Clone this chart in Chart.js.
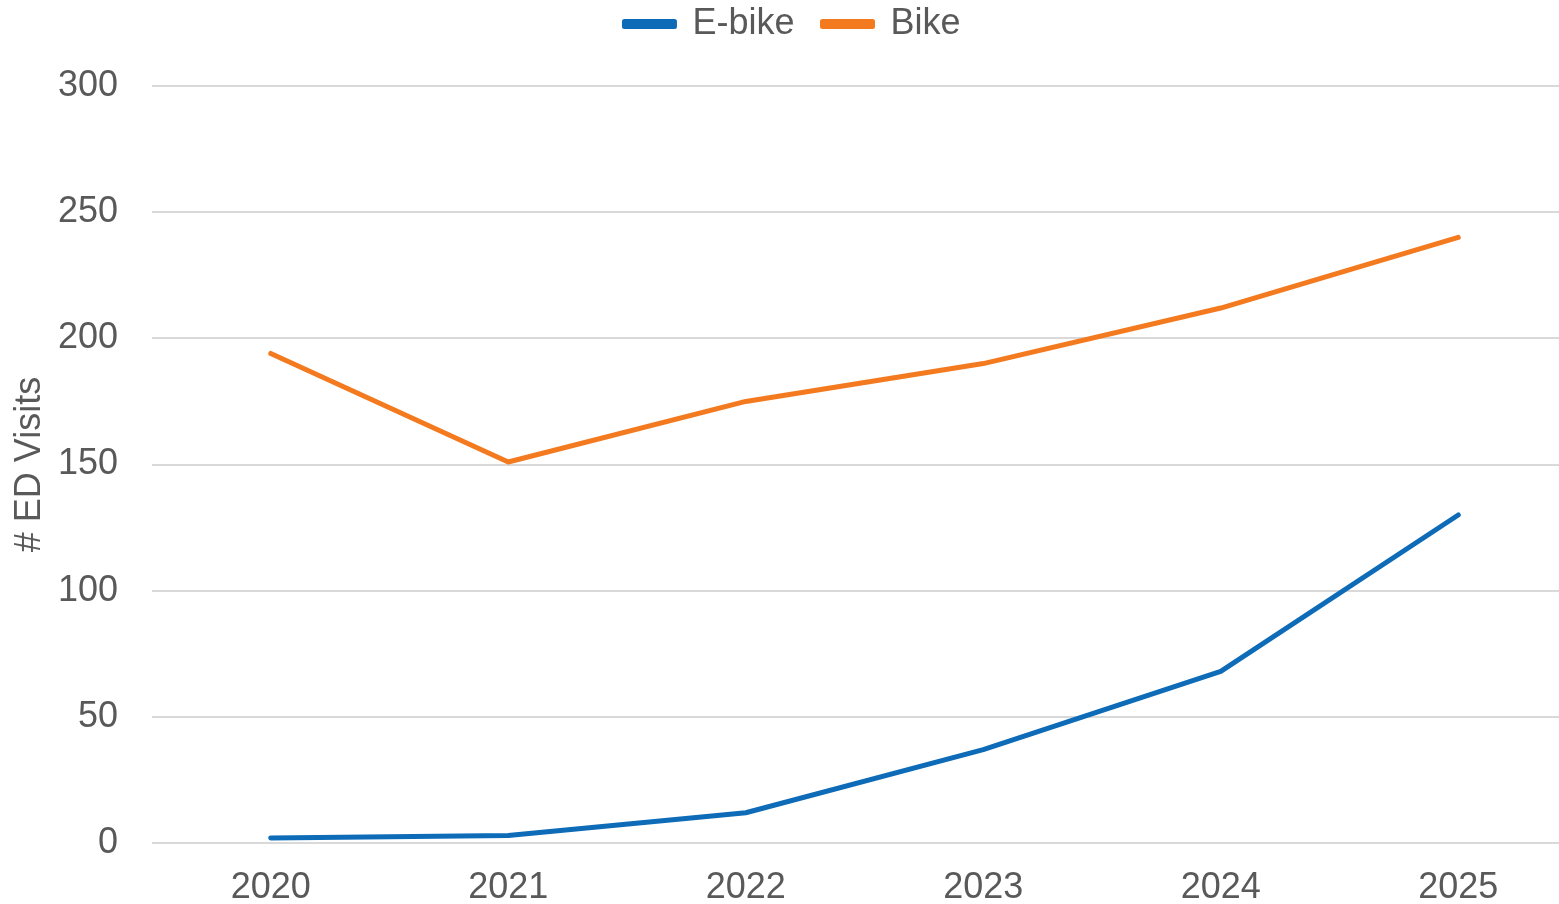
<!DOCTYPE html>
<html>
<head>
<meta charset="utf-8">
<script src="https://cdn.jsdelivr.net/npm/chart.js@4/dist/chart.umd.min.js"></script>
<style>
html,body{margin:0;padding:0;background:#fff;overflow:hidden;}
#wrap{width:1559px;height:904px;position:relative;overflow:hidden;}
</style>
</head>
<body>
<div id="wrap"><canvas id="c" width="1577" height="904"></canvas></div>
<script>
const years = ['2020','2021','2022','2023','2024','2025'];
const ebikeVisits = [2, 3, 12, 37, 68, 130];
const bikeVisits = [194, 151, 175, 190, 212, 240];
const yTicks = [0, 50, 100, 150, 200, 250, 300];

const textColor = '#595959';
const font = {family: '"Liberation Sans", Arial, sans-serif', size: 36};

const legendTweak = {
  id: 'legendTweak',
  afterInit(chart) {
    const lg = chart.legend;
    if (!lg) return;
    const fit = lg.fit;
    lg.fit = function() { fit.call(this); this.height = 86; };
    const draw = lg.draw;
    lg.draw = function() {
      const ctx = this.ctx;
      ctx.save();
      ctx.translate(4, -22);
      draw.call(this);
      ctx.restore();
    };
  }
};

new Chart(document.getElementById('c'), {
  type: 'line',
  data: {
    labels: years,
    datasets: [
      {label: 'E-bike', data: ebikeVisits, borderColor: '#0E6BB7', backgroundColor: '#0E6BB7',
       borderWidth: 5, pointRadius: 0, tension: 0, borderCapStyle: 'round', borderJoinStyle: 'round'},
      {label: 'Bike', data: bikeVisits, borderColor: '#F47A20', backgroundColor: '#F47A20',
       borderWidth: 5, pointRadius: 0, tension: 0, borderCapStyle: 'round', borderJoinStyle: 'round'}
    ]
  },
  plugins: [legendTweak],
  options: {
    responsive: false,
    animation: false,
    layout: {padding: 0},
    plugins: {
      tooltip: {enabled: false},
      legend: {
        position: 'top',
        labels: {color: textColor, font: font, boxWidth: 50, boxHeight: 5, padding: 28}
      }
    },
    scales: {
      x: {
        offset: true,
        grid: {display: false, drawTicks: false},
        border: {display: false},
        ticks: {color: textColor, font: font, padding: 23, maxRotation: 0},
        afterFit(s){ s.height = 61; }
      },
      y: {
        min: 0, max: 300,
        afterBuildTicks(s){ s.ticks = yTicks.map(v => ({value: v})); },
        grid: {color: '#D9D9D9', lineWidth: 2, drawTicks: false},
        border: {display: false},
        ticks: {color: textColor, font: font, padding: 34},
        title: {display: true, text: '# ED Visits', color: textColor, font: font, padding: {top: 8, bottom: 0}},
        afterFit(s){ s.width = 152; }
      }
    }
  }
});
</script>
</body>
</html>
